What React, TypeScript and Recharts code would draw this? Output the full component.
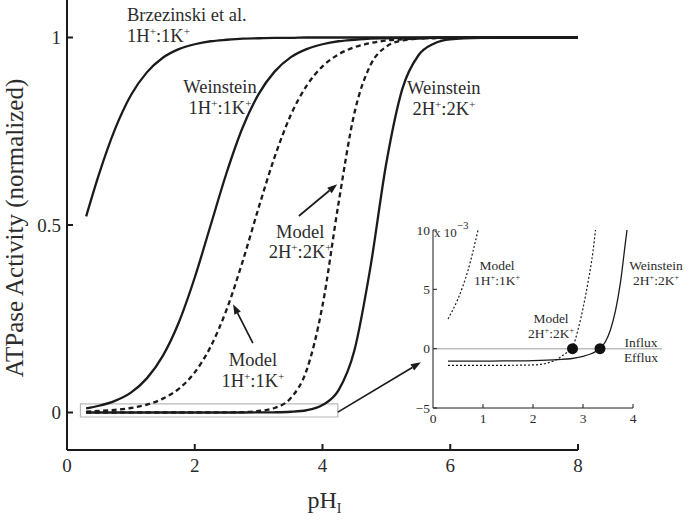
import type { ReactNode } from 'react'
import { LineChart, Line, XAxis, YAxis, ReferenceArea, ReferenceLine, ReferenceDot } from 'recharts'

// main panel: normalized ATPase activity vs pH_I
const phMain = [0.3, 0.5, 0.75, 1, 1.25, 1.5, 1.75, 2, 2.25, 2.5, 2.75, 3, 3.25, 3.5, 3.75, 4, 4.25, 4.5, 4.75, 5, 5.25, 5.5, 5.75, 6, 6.5, 7, 7.5, 8]
const brzezinski11 = [0.523, 0.635, 0.755, 0.846, 0.907, 0.946, 0.969, 0.982, 0.99, 0.994, 0.997, 0.998, 0.999, 0.999, 1, 1, 1, 1, 1, 1, 1, 1, 1, 1, 1, 1, 1, 1]
const weinstein11 = [0.011, 0.018, 0.031, 0.053, 0.091, 0.151, 0.24, 0.36, 0.5, 0.64, 0.76, 0.849, 0.909, 0.947, 0.969, 0.982, 0.99, 0.994, 0.997, 0.998, 0.999, 0.999, 1, 1, 1, 1, 1, 1]
const model11 = [0.002, 0.004, 0.007, 0.012, 0.021, 0.037, 0.063, 0.107, 0.176, 0.275, 0.403, 0.546, 0.681, 0.792, 0.871, 0.923, 0.955, 0.974, 0.985, 0.992, 0.995, 0.997, 0.998, 0.999, 1, 1, 1, 1]
const model22 = [0, 0, 0, 0, 0, 0, 0, 0, 0, 0.0004, 0.001, 0.004, 0.012, 0.038, 0.112, 0.285, 0.557, 0.799, 0.926, 0.976, 0.992, 0.997, 0.999, 1, 1, 1, 1, 1]
const weinstein22 = [0, 0, 0, 0, 0, 0, 0, 0, 0, 0, 0, 0.0002, 0.0006, 0.002, 0.006, 0.02, 0.059, 0.166, 0.387, 0.666, 0.863, 0.952, 0.984, 0.995, 0.999, 1, 1, 1]

const mainRows = phMain.map((ph, i) => ({
  ph,
  brz: brzezinski11[i],
  w11: weinstein11[i],
  m11: model11[i],
  m22: model22[i],
  w22: weinstein22[i],
}))

// inset: net flux (x 10^-3), influx positive
const insetWeinPh = [0.3, 1, 1.5, 2, 2.5, 2.75, 3, 3.15, 3.25, 3.34, 3.45, 3.55, 3.65, 3.75, 3.85, 3.88]
const insetWeinFlux = [-1.05, -1.05, -1.03, -1.0, -0.92, -0.85, -0.65, -0.45, -0.25, 0, 0.6, 1.6, 3.2, 5.6, 9.0, 10]
const insetModel22Ph = [0.3, 1, 1.5, 2, 2.25, 2.4, 2.5, 2.6, 2.7, 2.8, 2.9, 3, 3.1, 3.2, 3.25]
const insetModel22Flux = [-1.4, -1.4, -1.4, -1.37, -1.25, -1.05, -0.85, -0.55, -0.25, 0.2, 1.6, 3.4, 5.6, 8.2, 10]
const insetModel11Ph = [0.3, 0.4, 0.5, 0.6, 0.7, 0.8, 0.9]
const insetModel11Flux = [2.5, 3.3, 4.2, 5.3, 6.6, 8.2, 10]
const crossings = [2.79, 3.34]

const insetWein = insetWeinPh.map((x, i) => ({ x, y: insetWeinFlux[i] }))
const insetM22 = insetModel22Ph.map((x, i) => ({ x, y: insetModel22Flux[i] }))
const insetM11 = insetModel11Ph.map((x, i) => ({ x, y: insetModel11Flux[i] }))

const FONT = '"Liberation Serif", "Times New Roman", serif'
const INK = '#1b1b1b'
const TXT = '#2c2c2c'

// "1H+:1K+" -> plus signs raised
function supText(s: string, size: number) {
  const parts = s.split('+')
  const rise = size * 0.38
  const out: ReactNode[] = []
  parts.forEach((p, i) => {
    if (i > 0) out.push(<tspan key={'s' + i} dy={-rise} fontSize={size * 0.6}>+</tspan>)
    if (p) out.push(<tspan key={'t' + i} dy={i > 0 ? rise : 0}>{p}</tspan>)
  })
  return out
}

function textBlock(lines: string[], size: number, gap: number, anchor: 'start' | 'middle' = 'middle') {
  return (p: any) => (
    <text fontFamily={FONT} fontSize={size} fill={TXT} textAnchor={anchor}>
      {lines.map((ln, i) => (
        <tspan key={i} x={p.cx} y={p.cy + i * gap}>{supText(ln, size)}</tspan>
      ))}
    </text>
  )
}

function arrowShape(p: any) {
  const { x1, y1, x2, y2 } = p
  const a = Math.atan2(y2 - y1, x2 - x1)
  const len = 10
  const w = 3.6
  const bx = x2 - len * Math.cos(a)
  const by = y2 - len * Math.sin(a)
  const pts = `${x2},${y2} ${bx - w * Math.sin(a)},${by + w * Math.cos(a)} ${bx + w * Math.sin(a)},${by - w * Math.cos(a)}`
  return (
    <g>
      <line x1={x1} y1={y1} x2={bx} y2={by} stroke={INK} strokeWidth={1.7} />
      <polygon points={pts} fill={INK} />
    </g>
  )
}

const MainXTick = (p: any) => (
  <g>
    {p.payload.value !== 0 && <line x1={p.x} y1={p.y} x2={p.x} y2={p.y - 6} stroke={INK} strokeWidth={2} />}
    <text x={p.x} y={p.y + 22} textAnchor="middle" fontFamily={FONT} fontSize={19} fill={TXT}>
      {p.payload.value}
    </text>
  </g>
)

const MainYTick = (p: any) => (
  <g>
    <line x1={p.x} y1={p.y} x2={p.x + 6} y2={p.y} stroke={INK} strokeWidth={2} />
    <text x={p.x - 6} y={p.y + 6.5} textAnchor="end" fontFamily={FONT} fontSize={19} fill={TXT}>
      {p.payload.value}
    </text>
  </g>
)

const InsetXTick = (p: any) => (
  <g>
    {p.payload.value !== 0 && <line x1={p.x} y1={p.y} x2={p.x} y2={p.y - 4} stroke={INK} strokeWidth={1} />}
    <text x={p.x} y={p.y + 15} textAnchor="middle" fontFamily={FONT} fontSize={13.5} fill={TXT}>
      {p.payload.value}
    </text>
  </g>
)

const InsetYTick = (p: any) => (
  <g>
    <line x1={p.x} y1={p.y} x2={p.x + 4} y2={p.y} stroke={INK} strokeWidth={1} />
    <text x={p.x - 3} y={p.y + 4.5} textAnchor="end" fontFamily={FONT} fontSize={13.5} fill={TXT}>
      {String(p.payload.value).replace('-', '\u2212')}
    </text>
  </g>
)

const yTitle = (p: any) => {
  const vb = p.viewBox || { x: 0, y: 0, width: 67, height: 450 }
  const cx = vb.x + 23
  const cy = vb.y + vb.height / 2 + 3
  return (
    <text x={cx} y={cy} transform={`rotate(-90 ${cx} ${cy})`} textAnchor="middle" fontFamily={FONT} fontSize={25} fill={TXT}>
      ATPase Activity (normalized)
    </text>
  )
}

const xTitle = (p: any) => {
  const vb = p.viewBox || { x: 67, y: 450, width: 511, height: 70 }
  return (
    <text x={vb.x + vb.width / 2 + 2} y={vb.y + 58} textAnchor="middle" fontFamily={FONT} fontSize={24} fill={TXT}>
      pH<tspan dy={5} fontSize={14}>I</tspan>
    </text>
  )
}

const exponentLabel = (p: any) => (
  <text x={p.cx + 1} y={p.cy + 7} fontFamily={FONT} fontSize={13} fill={TXT}>
    x 10<tspan dy={-8} fontSize={11}>{'\u22123'}</tspan>
  </text>
)

export default function App() {
  return (
    <div style={{ position: 'absolute', left: 0, top: 0, width: 690, height: 520, background: '#fff' }}>
      <LineChart width={690} height={520} data={mainRows} margin={{ top: 0, right: 112, bottom: 0, left: 0 }}>
        <XAxis
          dataKey="ph"
          type="number"
          domain={[0, 8]}
          ticks={[0, 2, 4, 6, 8]}
          allowDataOverflow
          height={70}
          axisLine={{ stroke: INK, strokeWidth: 2 }}
          tickLine={false}
          tickSize={0}
          tickMargin={0}
          tick={(p: any) => <MainXTick {...p} />}
          label={xTitle}
        />
        <YAxis
          type="number"
          domain={[-0.1, 1.1]}
          ticks={[0, 0.5, 1]}
          allowDataOverflow
          width={67}
          axisLine={{ stroke: INK, strokeWidth: 2 }}
          tickLine={false}
          tickSize={0}
          tickMargin={0}
          tick={(p: any) => <MainYTick {...p} />}
          label={yTitle}
        />
        <ReferenceArea x1={0.21} x2={4.24} y1={-0.012} y2={0.023} fill="none" fillOpacity={0} stroke="#b9b9b9" strokeWidth={1.2} />
        <Line type="monotone" dataKey="brz" stroke={INK} strokeWidth={2.3} dot={false} isAnimationActive={false} />
        <Line type="monotone" dataKey="w11" stroke={INK} strokeWidth={2.3} dot={false} isAnimationActive={false} />
        <Line type="monotone" dataKey="m11" stroke={INK} strokeWidth={2.3} strokeDasharray="5 3.5" dot={false} isAnimationActive={false} />
        <Line type="monotone" dataKey="w22" stroke={INK} strokeWidth={2.3} dot={false} isAnimationActive={false} />
        <Line type="monotone" dataKey="m22" stroke={INK} strokeWidth={2.3} strokeDasharray="5 3.5" dot={false} isAnimationActive={false} />
        <ReferenceLine segment={[{ x: 3.63, y: 0.524 }, { x: 4.23, y: 0.609 }]} shape={arrowShape} />
        <ReferenceLine segment={[{ x: 2.91, y: 0.185 }, { x: 2.6, y: 0.289 }]} shape={arrowShape} />
        <ReferenceLine segment={[{ x: 4.24, y: 0.001 }, { x: 5.54, y: 0.134 }]} shape={arrowShape} />
        <ReferenceDot x={0.94} y={1.044} r={0} shape={textBlock(['Brzezinski et al.', '1H+:1K+'], 18.5, 21, 'start')} />
        <ReferenceDot x={2.395} y={0.852} r={0} shape={textBlock(['Weinstein', '1H+:1K+'], 18.5, 21)} />
        <ReferenceDot x={5.9} y={0.849} r={0} shape={textBlock(['Weinstein', '2H+:2K+'], 18.5, 21)} />
        <ReferenceDot x={3.65} y={0.465} r={0} shape={textBlock(['Model', '2H+:2K+'], 18.5, 20)} />
        <ReferenceDot x={2.91} y={0.124} r={0} shape={textBlock(['Model', '1H+:1K+'], 18.5, 21)} />
      </LineChart>

      <div style={{ position: 'absolute', left: 385, top: 205 }}>
        <LineChart width={305} height={235} margin={{ top: 25, right: 57, bottom: 0, left: 0 }}>
          <XAxis
            dataKey="x"
            type="number"
            domain={[0, 4]}
            ticks={[0, 1, 2, 3, 4]}
            allowDataOverflow
            height={32}
            axisLine={{ stroke: INK, strokeWidth: 1 }}
            tickLine={false}
            tickSize={0}
            tickMargin={0}
            tick={(p: any) => <InsetXTick {...p} />}
          />
          <YAxis
            type="number"
            domain={[-5, 10]}
            ticks={[-5, 0, 5, 10]}
            allowDataOverflow
            width={48}
            axisLine={{ stroke: INK, strokeWidth: 1 }}
            tickLine={false}
            tickSize={0}
            tickMargin={0}
            tick={(p: any) => <InsetYTick {...p} />}
          />
          <ReferenceLine segment={[{ x: 0, y: 0 }, { x: 4.58, y: 0 }]} stroke="#bdbdbd" strokeWidth={1.5} ifOverflow="visible" />
          <Line data={insetWein} dataKey="y" type="monotone" stroke={INK} strokeWidth={1.3} dot={false} isAnimationActive={false} />
          <Line data={insetM22} dataKey="y" type="monotone" stroke={INK} strokeWidth={1.2} strokeDasharray="2 2" dot={false} isAnimationActive={false} />
          <Line data={insetM11} dataKey="y" type="monotone" stroke={INK} strokeWidth={1.2} strokeDasharray="2 2" dot={false} isAnimationActive={false} />
          {crossings.map((c) => (
            <ReferenceDot key={c} x={c} y={0} r={5.5} fill="#111" stroke="none" />
          ))}
          <ReferenceDot x={0} y={10} r={0} ifOverflow="visible" shape={exponentLabel} />
          <ReferenceDot x={1.28} y={6.64} r={0} ifOverflow="visible" shape={textBlock(['Model', '1H+:1K+'], 13.5, 15)} />
          <ReferenceDot x={2.36} y={2.18} r={0} ifOverflow="visible" shape={textBlock(['Model', '2H+:2K+'], 13.5, 15)} />
          <ReferenceDot x={4.46} y={6.64} r={0} ifOverflow="visible" shape={textBlock(['Weinstein', '2H+:2K+'], 13.5, 15)} />
          <ReferenceDot x={4.16} y={0.17} r={0} ifOverflow="visible" shape={textBlock(['Influx', 'Efflux'], 13.5, 15)} />
        </LineChart>
      </div>
    </div>
  )
}
